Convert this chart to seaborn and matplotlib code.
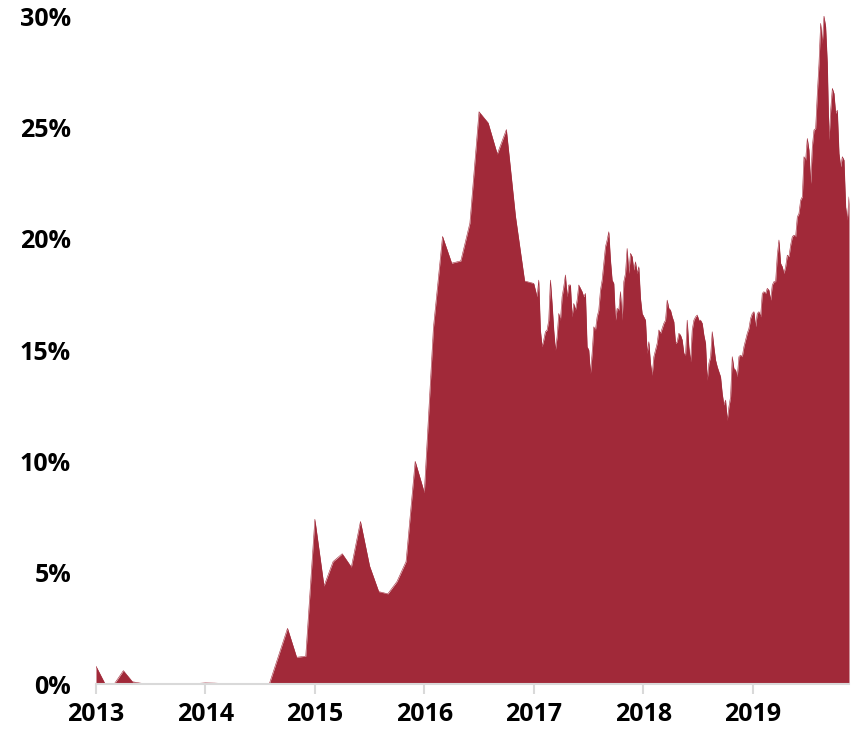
import numpy as np
import pandas as pd
import matplotlib
matplotlib.use("Agg")
import matplotlib.pyplot as plt
import seaborn as sns

# Monthly values Jan 2013 - Dec 2016 (%)
monthly_share = [
    0.8, 0.0, 0.0, 0.6, 0.1, 0.03, 0.0, 0.0, 0.0, 0.0, 0.01, 0.02,      # 2013
    0.05, 0.04, 0.02, 0.01, 0.02, 0.03, 0.0, 0.0, 1.25, 2.5, 1.2, 1.25,  # 2014
    7.4, 4.4, 5.5, 5.85, 5.25, 7.3, 5.3, 4.15, 4.05, 4.6, 5.5, 10.0,     # 2015
    8.6, 16.0, 20.1, 18.9, 19.0, 20.7, 25.7, 25.2, 23.8, 24.9, 21.0, 18.1,  # 2016
]

# Frequent values Jan 2017 - mid Nov 2019 (%)
frequent_share = [
    17.99, 17.69, 17.39, 18.14, 15.9, 15.15, 15.45, 15.82, 15.9, 16.34,
    18.14, 17.09, 15.9, 15.0, 15.6, 16.64, 16.34, 17.39, 17.84, 18.37,
    17.39, 17.92, 17.92, 16.49, 17.09, 16.79, 17.24, 17.92, 17.77, 17.62,
    17.39, 17.54, 15.15, 15.0, 13.95, 14.85, 16.04, 15.9, 16.49, 16.79,
    17.69, 18.14, 18.89, 19.64, 19.94, 20.31, 19.04, 18.14, 17.99, 16.34,
    16.87, 16.79, 17.62, 16.34, 18.07, 18.44, 19.56, 18.44, 19.34, 19.19,
    18.59, 18.96, 18.44, 18.74, 17.32,
    16.64, 16.49, 16.34, 14.85, 15.37, 14.4, 13.87, 14.7, 15.0, 15.3,
    15.9, 15.75, 15.97, 16.2, 16.34, 17.24, 16.87, 16.79, 16.49, 16.27,
    15.3, 15.37, 15.75, 15.67, 15.45, 14.85, 14.77, 16.34, 15.15, 14.47,
    15.9, 16.34, 16.49, 16.57, 16.34, 16.34, 16.2, 15.67, 15.3, 13.65,
    14.4, 14.7, 15.82, 15.15, 14.55, 14.25, 14.02, 13.8, 13.05, 12.53,
    12.75, 11.85, 12.45, 12.9, 14.7, 14.17, 14.1, 13.8, 14.7, 14.77,
    14.7, 15.15, 15.45, 15.75, 15.97, 16.42, 16.64, 16.72, 16.05, 16.64,
    16.72, 16.49,
    17.54, 17.62, 17.54, 17.77, 17.69, 17.24, 17.92, 18.07, 18.07, 19.26,
    19.94, 18.89, 18.74, 18.44, 18.74, 19.26, 19.19, 19.71, 20.09, 20.16,
    20.09, 20.98, 21.13, 21.73, 21.88, 23.68, 23.53, 24.5, 23.98, 22.48,
    24.13, 24.88, 24.95, 26.52, 27.87, 29.67, 28.77, 30.0, 29.52, 27.87,
    24.43, 25.77, 26.75, 26.52, 25.63, 25.77, 23.83, 23.23, 23.68, 23.53,
    21.43, 20.84, 21.88,
]

year_ticks = [2013, 2014, 2015, 2016, 2017, 2018, 2019]
y_ticks = [0, 5, 10, 15, 20, 25, 30]

monthly_x = 2013 + np.arange(len(monthly_share)) / 12.0
frequent_x = np.linspace(2017.0, 2019.881, len(frequent_share))

df = pd.DataFrame({
    "year": np.concatenate([monthly_x, frequent_x]),
    "share": np.concatenate([monthly_share, frequent_share]),
})

sns.set_theme(style="white")
plt.rcParams["font.family"] = ["Open Sans", "DejaVu Sans"]

color = "#A12939"
fig = plt.figure(figsize=(8.52, 7.36), dpi=100)
ax = fig.add_axes([96 / 852, 1 - 684 / 736, (849 - 96) / 852, (684 - 16) / 736])

sns.lineplot(data=df, x="year", y="share", ax=ax, color=color, linewidth=0.4)
ax.fill_between(df["year"], 0, df["share"], color=color, linewidth=0)

ax.set_xlim(2013.0, df["year"].iloc[-1])
ax.set_ylim(0, 30)
ax.set_xticks(year_ticks)
ax.set_xticklabels([str(y) for y in year_ticks], fontsize=18, fontweight="bold", color="black")
ax.set_yticks(y_ticks)
ax.set_yticklabels([f"{v}%" for v in y_ticks], fontsize=18, fontweight="bold", color="black")
ax.set_xlabel("")
ax.set_ylabel("")

for s in ["top", "right", "left"]:
    ax.spines[s].set_visible(False)
ax.spines["bottom"].set_color("#d9d9d9")
ax.spines["bottom"].set_linewidth(1.5)
ax.tick_params(axis="x", direction="out", length=7, width=1.5, color="#d9d9d9", pad=6, bottom=True)
ax.tick_params(axis="y", length=0, pad=18)
ax.grid(False)

fig.savefig("out.png", dpi=100)
